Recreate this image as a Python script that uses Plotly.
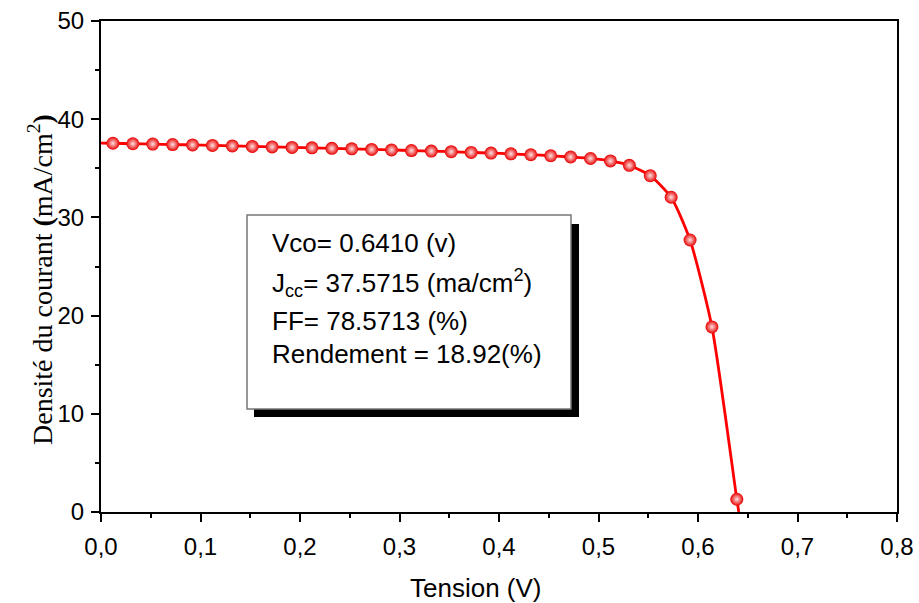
import plotly.graph_objects as go

# Data
tension = [0.012, 0.032, 0.052, 0.072, 0.092, 0.112, 0.132, 0.152, 0.172, 0.192,
           0.212, 0.232, 0.252, 0.272, 0.292, 0.312, 0.332, 0.352, 0.372, 0.392,
           0.412, 0.432, 0.452, 0.472, 0.492, 0.512, 0.531, 0.552, 0.573, 0.592,
           0.614, 0.639]
densite = [37.55, 37.50, 37.47, 37.42, 37.38, 37.33, 37.28, 37.23, 37.18, 37.13,
           37.08, 37.03, 36.98, 36.92, 36.87, 36.81, 36.75, 36.69, 36.62, 36.55,
           36.47, 36.38, 36.28, 36.15, 36.00, 35.75, 35.30, 34.25, 32.05, 27.70,
           18.85, 1.30]
vco = 0.6410
jcc = 37.5715

box_lines = ["Vco= 0.6410 (v)",
             "J<sub>cc</sub>= 37.5715 (ma/cm<sup>2</sup>)",
             "FF= 78.5713 (%)",
             "Rendement = 18.92(%)"]
x_title = "Tension (V)"
y_title = "Densité du courant <b>(</b>mA/cm<sup>2</sup><b>)</b>"

L, R, T, B = 101, 897, 21, 512
W, H = R - L, B - T

fig = go.Figure()
# smooth curve from Jcc to Vco
fig.add_trace(go.Scatter(
    x=[0.0] + tension + [vco], y=[jcc] + densite + [0.0],
    mode="lines", line=dict(color="#ff0000", width=2.8, shape="spline", smoothing=0.6),
    hoverinfo="skip", showlegend=False))
fig.add_trace(go.Scatter(
    x=tension, y=densite, mode="markers",
    marker=dict(size=13, color="#e80000",
                gradient=dict(type="radial", color="#ffe0e0"),
                line=dict(width=0)),
    showlegend=False))

sans = "Liberation Sans, Arial"
axis_common = dict(showline=True, linecolor="black", linewidth=2, mirror=True,
                   ticks="outside", ticklen=8, tickwidth=2, tickcolor="black",
                   showgrid=False, zeroline=False, automargin=False,
                   tickfont=dict(family=sans, size=24, color="black"))

fig.update_xaxes(range=[0, 0.8], dtick=0.1, tickformat=".1f", ticklabelstandoff=4,
                 minor=dict(ticks="outside", ticklen=4, tickwidth=2, dtick=0.05, tickcolor="black"),
                 **axis_common)
fig.update_yaxes(range=[0, 50], dtick=10, ticklabelstandoff=2,
                 minor=dict(ticks="outside", ticklen=4, tickwidth=2, dtick=5, tickcolor="black"),
                 **axis_common)


def px(xp, yp):
    return (xp - L) / W, (B - yp) / H


# axis titles
ax, ay = px(476, 588)
fig.add_annotation(xref="paper", yref="paper", x=ax, y=ay, text=x_title, showarrow=False,
                   xanchor="center", yanchor="middle",
                   font=dict(family=sans, size=26, color="black"))
ax, ay = px(40, 280)
fig.add_annotation(xref="paper", yref="paper", x=ax, y=ay, text=y_title, showarrow=False,
                   textangle=-90, xanchor="center", yanchor="middle",
                   font=dict(family="Liberation Serif, Times New Roman", size=28, color="black"))

# text box with shadow
x0, y0 = px(254, 417)
x1, y1 = px(579, 224)
fig.add_shape(type="rect", xref="paper", yref="paper", x0=x0, x1=x1, y0=y0, y1=y1,
              fillcolor="black", line=dict(width=0), layer="above")
x0, y0 = px(247, 409)
x1, y1 = px(571, 215)
fig.add_shape(type="rect", xref="paper", yref="paper", x0=x0, x1=x1, y0=y0, y1=y1,
              fillcolor="white", line=dict(color="#777777", width=1.5), layer="above")
ys = [243, 283, 321, 354]
for t, yy in zip(box_lines, ys):
    ax, ay = px(270, yy)
    fig.add_annotation(xref="paper", yref="paper", x=ax, y=ay,
                       text=t, showarrow=False, xanchor="left", yanchor="middle",
                       font=dict(family=sans, size=26, color="black"))

fig.update_layout(width=919, height=603, margin=dict(l=L, r=919 - R, t=T, b=603 - B),
                  plot_bgcolor="white", paper_bgcolor="white", separators=", ")
fig.write_html("out.html")
